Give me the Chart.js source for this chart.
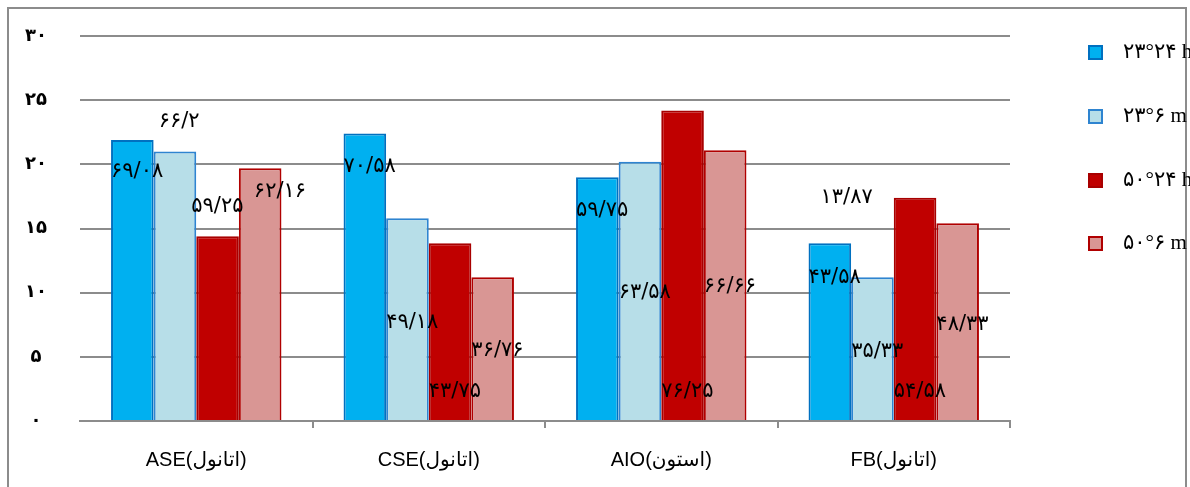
<!DOCTYPE html>
<html>
<head>
<meta charset="utf-8">
<script src="https://cdn.jsdelivr.net/npm/chart.js@4/dist/chart.umd.min.js"></script>
<style>
  body { margin: 0; background: #fff; overflow: hidden; }
  #wrap { position: relative; width: 1190px; height: 487px; }
  #frame { position: absolute; left: 7px; top: 7px; width: 1180px; height: 520px; border: 2px solid #8c8c8c; box-sizing: border-box; }
  #chart { position: absolute; left: 0; top: 0; }
  .leyenda { position: absolute; left: 1088px; font-family: "Liberation Serif", "DejaVu Sans", serif; font-size: 21px; color: #000; white-space: nowrap; }
  .leyenda span.caja { position: absolute; left: 0; width: 11px; height: 11px; border: 2px solid; }
  .leyenda span.texto { position: absolute; left: 35px; }
</style>
</head>
<body>
<div id="wrap">
  <div id="frame"></div>
  <canvas id="chart" width="1190" height="487"></canvas>
  <div id="leyenda_container"></div>
</div>
<script>
const categorias = ['ASE(اتانول)', 'CSE(اتانول)', 'AIO(استون)', 'FB(اتانول)'];
const nombresSeries = ['۲۳°۲۴ h', '۲۳°۶ m', '۵۰°۲۴ h', '۵۰°۶ m'];

const serie1 = [21.9, 22.4, 19.0, 13.85];
const serie2 = [21.0, 15.8, 20.2, 11.2];
const serie3 = [14.4, 13.85, 24.2, 17.4];
const serie4 = [19.7, 11.2, 21.1, 15.4];

const etiquetas1 = ['۶۹/۰۸', '۷۰/۵۸', '۵۹/۷۵', '۴۳/۵۸'];
const etiquetas2 = ['۶۶/۲', '۴۹/۱۸', '۶۳/۵۸', '۳۵/۳۳'];
const etiquetas3 = ['۵۹/۲۵', '۴۳/۷۵', '۷۶/۲۵', '۵۴/۵۸'];
const etiquetas4 = ['۶۲/۱۶', '۳۶/۷۶', '۶۶/۶۶', '۴۸/۳۳'];
const etiquetaExtra = '۱۳/۸۷';

const ticksY = ['۰', '۵', '۱۰', '۱۵', '۲۰', '۲۵', '۳۰'];

// where each text label sits (y in axis units, x offset from the bar's left edge)
const posEtiquetas = [
    { y: [19.4, 19.8, 16.4, 11.2], dx: [0, 0, 0, 0] },
    { y: [23.3, 7.7, 10.0, 5.4], dx: [5, 0, 0, 0] },
    { y: [16.7, 2.3, 2.3, 2.3], dx: [-5, 0, 0, 0] },
    { y: [17.9, 5.5, 10.5, 7.5], dx: [15, 0, 0, 0] }
];
const posExtra = { serie: 0, cat: 3, y: 17.4, dx: 12 };

const colores = [
    { fondo: '#00B0F0', borde: '#0070C0' },
    { fondo: '#B7DEE8', borde: '#2E84D0' },
    { fondo: '#C00000', borde: '#A80000' },
    { fondo: '#D99694', borde: '#B00000' }
];

const series = [serie1, serie2, serie3, serie4];
const etiquetas = [etiquetas1, etiquetas2, etiquetas3, etiquetas4];

const fuenteEtiquetas = '21px "DejaVu Sans", "Liberation Serif", serif';

const pluginEtiquetas = {
    id: 'etiquetas',
    afterDatasetsDraw(chart) {
        const ctx = chart.ctx;
        const y = chart.scales.y;
        ctx.save();
        ctx.font = fuenteEtiquetas;
        ctx.fillStyle = '#000';
        ctx.textAlign = 'left';
        ctx.textBaseline = 'middle';
        etiquetas.forEach((lista, s) => {
            const meta = chart.getDatasetMeta(s);
            lista.forEach((texto, c) => {
                const bar = meta.data[c];
                const izq = bar.x - bar.width / 2;
                ctx.fillText(texto, izq + posEtiquetas[s].dx[c], y.getPixelForValue(posEtiquetas[s].y[c]));
            });
        });
        const barExtra = chart.getDatasetMeta(posExtra.serie).data[posExtra.cat];
        ctx.fillText(etiquetaExtra, barExtra.x - barExtra.width / 2 + posExtra.dx, y.getPixelForValue(posExtra.y));
        ctx.restore();
    }
};

const leyenda = (chart) => {
    const cont = document.getElementById('leyenda_container');
    const tops = [52, 116, 180, 243];
    chart.data.datasets.forEach((ds, i) => {
        cont.innerHTML += "<div class='leyenda' style='top:" + (tops[i] - 13) + "px'>" +
                              "<span class='caja' style='top:6px;background:" + ds.backgroundColor + ";border-color:" + ds.borderColor + "'></span>" +
                              "<span class='texto'>" + ds.label + "</span>" +
                          "</div>";
    });
};

const ctx = document.getElementById('chart');
const grafica = new Chart(ctx, {
    type: 'bar',
    data: {
        labels: categorias,
        datasets: series.map((datos, i) => ({
            label: nombresSeries[i],
            data: datos,
            backgroundColor: colores[i].fondo,
            borderColor: colores[i].borde,
            borderWidth: 2,
            barPercentage: 1,
            categoryPercentage: 0.733
        }))
    },
    options: {
        responsive: false,
        animation: false,
        layout: { padding: { top: 36, right: 180, left: 0, bottom: 0 } },
        plugins: {
            legend: { display: false },
            tooltip: { enabled: false }
        },
        scales: {
            x: {
                grid: {
                    display: true, drawOnChartArea: false, drawTicks: true, tickLength: 7, lineWidth: 2, offset: true,
                    color: (c) => c.index === 0 ? 'rgba(0,0,0,0)' : '#8c8c8c'
                },
                border: { display: true, color: '#8c8c8c', width: 2 },
                ticks: { color: '#000', font: { family: '"Liberation Sans Narrow", "Liberation Sans", "DejaVu Sans"', size: 20 }, padding: 20 },
                afterFit: (scale) => { scale.height = 66; }
            },
            y: {
                min: 0,
                max: 30,
                ticks: {
                    stepSize: 5,
                    color: '#000',
                    crossAlign: 'center',
                    padding: 33,
                    font: { family: '"DejaVu Sans", sans-serif', size: 18, weight: 'bold' },
                    callback: (v, i) => ticksY[i]
                },
                grid: { color: '#8c8c8c', lineWidth: 2, drawTicks: false },
                border: { display: false },
                afterFit: (scale) => {
                    scale.width = 80;
                    scale.paddingTop = 0;
                    scale.paddingBottom = 0;
                }
            }
        }
    },
    plugins: [pluginEtiquetas]
});

leyenda(grafica);
</script>
</body>
</html>
